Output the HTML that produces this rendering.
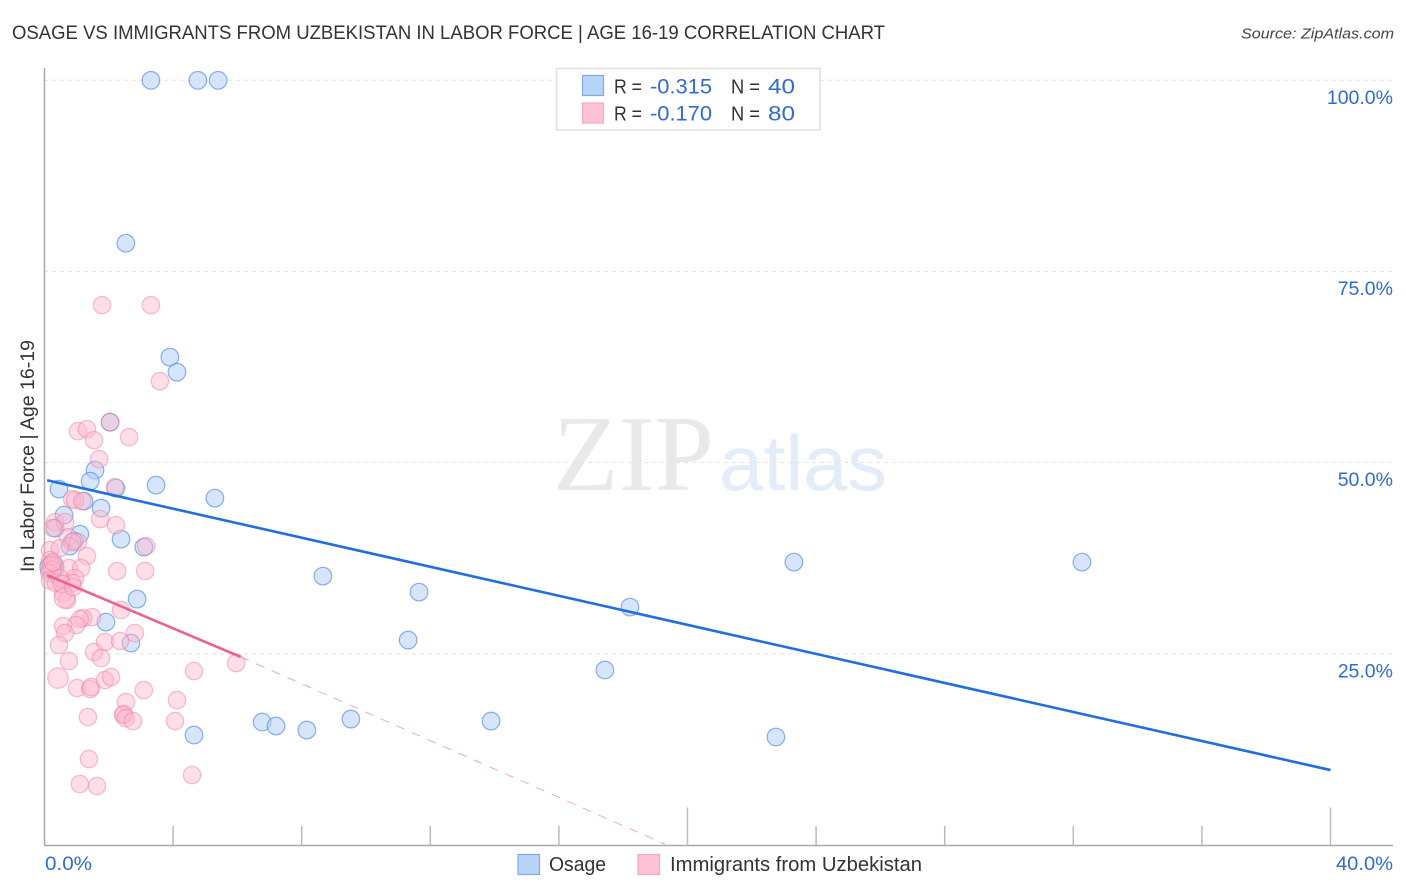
<!DOCTYPE html>
<html lang="en">
<head>
<meta charset="utf-8">
<title>Osage vs Immigrants from Uzbekistan in Labor Force | Age 16-19 Correlation Chart</title>
<style>
html,body{margin:0;padding:0;background:#fff;}
svg{display:block;font-family:"Liberation Sans",sans-serif;}
</style>
</head>
<body>
<svg id="chart" xmlns="http://www.w3.org/2000/svg" width="1406" height="892" viewBox="0 0 1406 892">
  <rect x="0" y="0" width="1406" height="892" fill="#ffffff"/>
  <text x="12" y="39" font-size="19.5" fill="#333" textLength="873" lengthAdjust="spacingAndGlyphs">OSAGE VS IMMIGRANTS FROM UZBEKISTAN IN LABOR FORCE | AGE 16-19 CORRELATION CHART</text>
  <text x="1241" y="38.5" font-size="15" font-style="italic" fill="#444" textLength="153" lengthAdjust="spacingAndGlyphs">Source: ZipAtlas.com</text>
  <g>
    <text x="553" y="490" font-family="'Liberation Serif',serif" font-size="108" fill="#e9e9e9" textLength="161" lengthAdjust="spacingAndGlyphs">ZIP</text>
    <text x="719" y="490" font-size="78" fill="#e3edfa" textLength="168" lengthAdjust="spacingAndGlyphs">atlas</text>
  </g>
  <g id="grid"></g>
  <g id="axes">
    <line x1="44.5" y1="68" x2="44.5" y2="845" stroke="#aaa" stroke-width="1.5"/>
    <line x1="44" y1="845.5" x2="1393" y2="845.5" stroke="#aaa" stroke-width="1.5"/>
  </g>
  <g id="ticks"></g>
  <g id="blue-points"></g>
  <g id="pink-points"></g>
  <g id="trends"></g>
  <g id="tick-labels"></g>
  <text transform="translate(34 572) rotate(-90)" font-size="19" fill="#333" textLength="232" lengthAdjust="spacingAndGlyphs">In Labor Force | Age 16-19</text>

  <g>
    <rect x="556.5" y="68.5" width="263.5" height="61.5" fill="#ffffff" stroke="#e0e0e0" stroke-width="1.5"/>
    <rect x="582.5" y="75.5" width="21" height="20" fill="#b8d3f8" stroke="#7eaae6" stroke-width="1.2"/>
    <rect x="582.5" y="103" width="21" height="20" fill="#ffc2d5" stroke="#f4a8c0" stroke-width="1.2"/>
    <text x="614" y="93.5" font-size="20" fill="#333" textLength="28" lengthAdjust="spacingAndGlyphs">R =</text>
    <text x="650" y="93.5" font-size="21.5" fill="#2f6bd0" textLength="62" lengthAdjust="spacingAndGlyphs">-0.315</text>
    <text x="731" y="93.5" font-size="20" fill="#333" textLength="29" lengthAdjust="spacingAndGlyphs">N =</text>
    <text x="768" y="93.5" font-size="21.5" fill="#2f6bd0" textLength="27" lengthAdjust="spacingAndGlyphs">40</text>
    <text x="614" y="120.5" font-size="20" fill="#333" textLength="28" lengthAdjust="spacingAndGlyphs">R =</text>
    <text x="650" y="120.5" font-size="21.5" fill="#2f6bd0" textLength="62" lengthAdjust="spacingAndGlyphs">-0.170</text>
    <text x="731" y="120.5" font-size="20" fill="#333" textLength="29" lengthAdjust="spacingAndGlyphs">N =</text>
    <text x="768" y="120.5" font-size="21.5" fill="#2f6bd0" textLength="27" lengthAdjust="spacingAndGlyphs">80</text>
  </g>

  <g>
    <g>
      <rect x="518" y="854.5" width="21.5" height="20" fill="#b8d3f8" stroke="#7eaae6" stroke-width="1.2"/>
      <text x="549" y="871" font-size="20" fill="#333" textLength="57" lengthAdjust="spacingAndGlyphs">Osage</text>
    </g>
    <g>
      <rect x="638" y="854.5" width="21.5" height="20" fill="#ffc2d5" stroke="#f4a8c0" stroke-width="1.2"/>
      <text x="670" y="871" font-size="20" fill="#333" textLength="252" lengthAdjust="spacingAndGlyphs">Immigrants from Uzbekistan</text>
    </g>
  </g>
</svg>
<script>
const osageX = [3.31,4.77,5.40,2.53,3.90,4.12,2.04,1.57,1.42,0.45,3.47,2.22,5.30,1.23,1.76,0.61,0.33,1.10,2.38,0.92,0.79,3.09,8.66,23.31,32.27,11.65,2.88,18.21,1.91,2.69,11.31,17.43,4.65,6.77,7.20,8.16,9.53,13.89,22.75,0.23];
const osageY = [100,100,100,78.69,63.79,61.83,55.29,49.02,47.58,46.54,47.06,46.67,45.36,44.97,44.05,43.14,41.44,40.65,40.00,39.74,39.08,38.95,35.16,36.99,36.99,33.07,32.16,31.11,29.15,26.41,26.80,22.88,14.38,16.08,15.56,15.03,16.47,16.21,14.12,36.34];
const immigrantsX = [1.79,3.31,3.59,1.04,1.32,1.54,2.04,2.63,1.70,2.19,0.86,0.95,1.17,1.73,2.22,0.33,0.64,0.26,0.73,1.04,0.86,3.16,1.32,0.17,0.48,2.26,3.13,0.76,1.14,0.95,0.86,0.58,0.70,2.38,1.48,1.20,1.10,0.98,0.58,0.64,2.81,1.88,2.35,0.45,1.54,1.76,0.76,5.96,4.65,0.42,1.01,1.42,1.45,1.88,2.07,3.09,2.53,4.12,1.35,2.44,2.47,2.53,2.75,4.06,1.38,4.59,1.10,1.63,0.17,0.20,0.23,0.25,0.15,0.17,0.36,0.48,0.54,0.26,0.62,0.89];
const immigrantsY = [70.59,70.59,60.65,54.12,54.38,52.94,55.29,53.33,50.46,46.80,45.23,45.10,44.97,42.61,41.83,42.22,42.22,41.44,40.26,39.61,39.61,39.08,37.78,38.56,38.82,35.82,35.82,36.21,36.21,34.90,34.25,32.94,32.03,30.72,29.80,29.67,29.54,28.76,28.63,27.71,27.71,26.54,26.67,26.14,25.23,24.44,24.05,23.79,22.75,21.83,20.52,20.39,20.65,21.57,21.96,20.26,18.69,18.95,16.73,16.99,17.12,16.60,16.21,16.21,11.24,9.15,7.97,7.71,37.25,36.60,36.34,36.00,35.60,34.60,34.25,34.90,34.12,36.99,32.30,33.73];
const largerImmigrantMarks = [49, 70, 78];
const largerOsageMarks = [39];
const osageTrendX = [0.08, 40];
const osageTrendY = [47.7, 9.8];
const immigrantsTrendX = [0.08, 6.1];
const immigrantsTrendY = [35.3, 24.6];
const immigrantsExtendedX = [6.1, 19.3];
const immigrantsExtendedY = [24.6, 0.1];
const yGridValues = [100, 75, 50, 25];
const yTickLabels = ["100.0%", "75.0%", "50.0%", "25.0%"];
const xTickValues = [4, 8, 12, 16, 20, 24, 28, 32, 36, 40];
const xMajorTicks = [20, 40];
const xTickLabels = ["0.0%", "40.0%"];

function xScale(v) { return 44.5 + v * 32.15; }
function yScale(v) { return 845 - v * 7.647; }

const SVG_NS = "http://www.w3.org/2000/svg";
function make(tag, parentId, attrs) {
  const el = document.createElementNS(SVG_NS, tag);
  for (const k in attrs) el.setAttribute(k, attrs[k]);
  document.getElementById(parentId).appendChild(el);
  return el;
}

yGridValues.forEach(function (v) {
  const el = make("line", "grid", {x1: 44, x2: 1393, y1: yScale(v), y2: yScale(v), stroke: "#e2e2e2", "stroke-width": 1, "stroke-dasharray": "4 4"});
  
  
});

xTickValues.forEach(function (v) {
  const top = xMajorTicks.indexOf(v) >= 0 ? 807.5 : 826;
  const el = make("line", "ticks", {x1: xScale(v), x2: xScale(v), y1: top, y2: 845, stroke: "#bbbbbb", "stroke-width": 1.5});
  
  
});

immigrantsX.forEach(function (v, i) {
  const big = largerImmigrantMarks.indexOf(i) >= 0;
  const el = make("circle", "pink-points", {cx: xScale(v), cy: yScale(immigrantsY[i]), r: big ? 10.2 : 8.7, fill: "#ffb6cb", "fill-opacity": 0.45, stroke: "#ea7fa2", "stroke-opacity": 0.5, "stroke-width": 1.2});
  
  
});

osageX.forEach(function (v, i) {
  const big = largerOsageMarks.indexOf(i) >= 0;
  const el = make("circle", "blue-points", {cx: xScale(v), cy: yScale(osageY[i]), r: big ? 12 : 8.8, fill: "#b4d0f6", "fill-opacity": 0.55, stroke: "#5a93e4", "stroke-opacity": 0.72, "stroke-width": 1.2});
  
  
});

const osageTrend = make("line", "trends", {x1: xScale(osageTrendX[0]), y1: yScale(osageTrendY[0]), x2: xScale(osageTrendX[1]), y2: yScale(osageTrendY[1]), stroke: "#1f6fdc", "stroke-width": 2.6});



const immigrantsTrend = make("line", "trends", {x1: xScale(immigrantsTrendX[0]), y1: yScale(immigrantsTrendY[0]), x2: xScale(immigrantsTrendX[1]), y2: yScale(immigrantsTrendY[1]), stroke: "#ee6090", "stroke-width": 2.6});



const immigrantsExtended = make("line", "trends", {x1: xScale(immigrantsExtendedX[0]), y1: yScale(immigrantsExtendedY[0]), x2: xScale(immigrantsExtendedX[1]), y2: yScale(immigrantsExtendedY[1]), stroke: "#f4a6bf", "stroke-width": 1, "stroke-dasharray": "9 8"});



yGridValues.forEach(function (v, i) {
  const el = make("text", "tick-labels", {x: 1393, y: yScale(v) + 23.5, "text-anchor": "end", "font-size": 19.5, fill: "#2f6bd0"});
  el.textContent = yTickLabels[i];
  
  
});

const xLabelStart = make("text", "tick-labels", {x: 45, y: 870, "font-size": 19.5, fill: "#2f6bd0", textLength: 47, lengthAdjust: "spacingAndGlyphs"});
xLabelStart.textContent = xTickLabels[0];



const xLabelEnd = make("text", "tick-labels", {x: 1336, y: 870, "font-size": 19.5, fill: "#2f6bd0", textLength: 57, lengthAdjust: "spacingAndGlyphs"});
xLabelEnd.textContent = xTickLabels[1];


</script>
</body>
</html>
